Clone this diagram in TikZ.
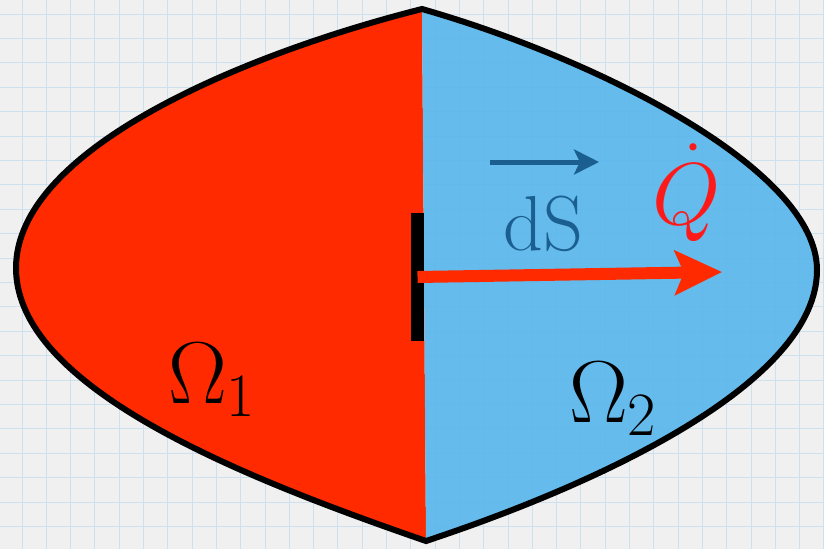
\RequirePackage{fix-cm}
\documentclass[tikz,border=0pt]{standalone}
\usetikzlibrary{arrows.meta}
\definecolor{bgcol}{HTML}{F0F0F0}
\definecolor{gridcol}{HTML}{CCE0EE}
\definecolor{regred}{HTML}{FF2A00}
\definecolor{regblue}{HTML}{5AB7EC}
\definecolor{dsblue}{HTML}{1A5F8F}
\definecolor{qred}{HTML}{FF1A1A}
\tikzset{
  gridline/.style={gridcol, line width=1pt},
  bigtext/.style={inner sep=0pt, font=\fontsize{78}{80}\selectfont},
  bigmath/.style={inner sep=0pt, font=\fontsize{88}{90}\selectfont},
  outline/.style={black, line width=6pt, line join=miter},
  heatarrow/.style={regred, line width=12pt, -{Stealth[length=47pt, width=44pt, inset=9pt]}},
  dsarrow/.style={dsblue, line width=5pt, -{Stealth[length=25pt, width=25pt, inset=6pt]}}
}
\begin{document}
\begin{tikzpicture}[x=1pt,y=-1pt]
\useasboundingbox (0,0) rectangle (824,549);
\fill[bgcol] (0,0) rectangle (824,549);
\foreach \i in {0,...,33} \draw[gridline] ({22+24.3*\i},0) -- ++(0,549);
\foreach \j in {0,...,22} \draw[gridline] (0,{14+24.4*\j}) -- ++(824,0);
\coordinate (T) at (422,9);
\coordinate (B) at (426,541);
\coordinate (L) at (16,268);
\coordinate (R) at (817,270);
% regions
\fill[regred] (T) .. controls (240,55) and (16,150) .. (L)
  .. controls (16,390) and (250,480) .. (B) -- cycle;
\fill[regblue, opacity=0.93] (T) .. controls (600,60) and (817,170) .. (R)
  .. controls (817,380) and (610,480) .. (B) -- cycle;
\draw[outline] (T) .. controls (240,55) and (16,150) .. (L)
  .. controls (16,390) and (250,480) .. (B)
  .. controls (610,480) and (817,380) .. (R)
  .. controls (817,170) and (600,60) .. (T) -- cycle;
% bar and arrows
\node[fill=black, minimum width=13pt, minimum height=128pt, inner sep=0pt] (bar) at (417.5,277) {};
\coordinate (qtip) at (722,272);
\draw[heatarrow] (bar.center) -- (qtip);
\coordinate (dsa) at (490,162);
\coordinate (dsb) at (599,162);
\draw[dsarrow] (dsa) -- (dsb);
% labels
\node[bigtext, anchor=base west, text=dsblue] (ds) at (503,250) {dS};
\node[bigmath, anchor=base west, text=qred] (q) at (652,224) {$\dot{Q}$};
\node[bigmath, anchor=base west] (o1) at (168,403) {$\Omega_1$};
\node[bigmath, anchor=base west] (o2) at (569,422) {$\Omega_2$};
\end{tikzpicture}
\end{document}
